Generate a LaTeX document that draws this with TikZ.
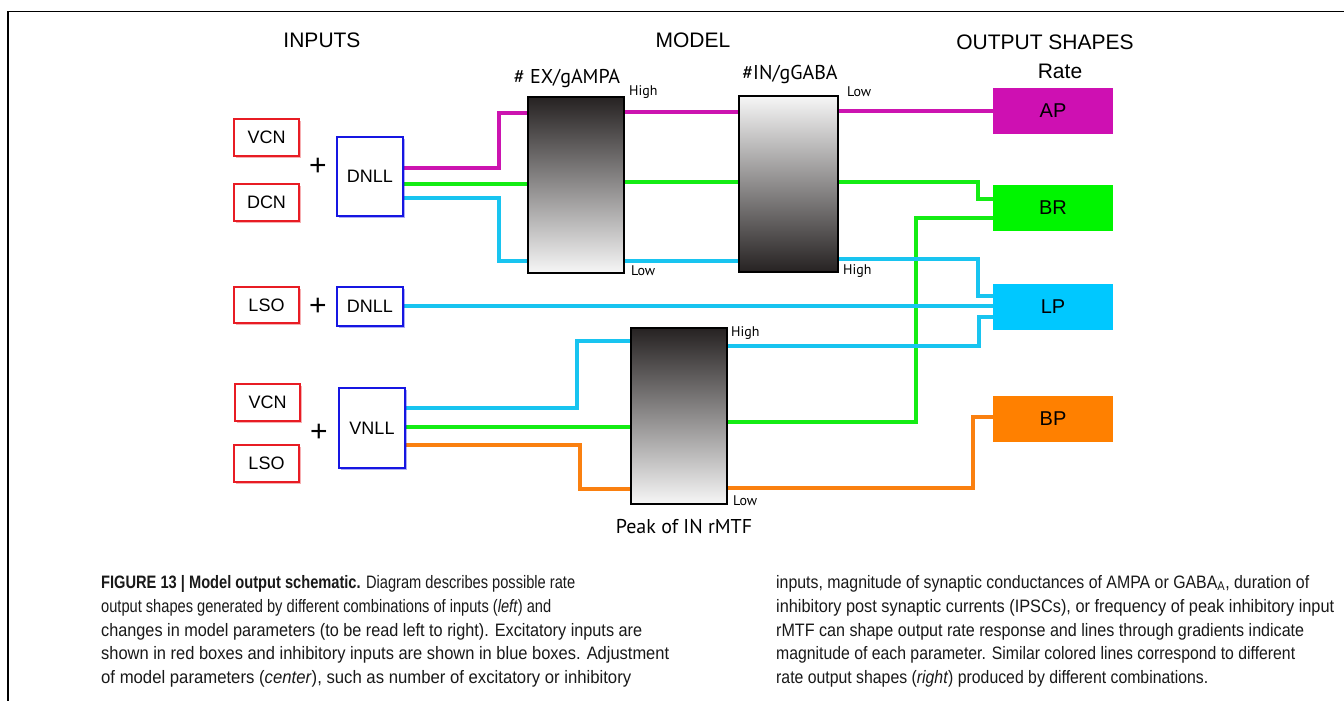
\documentclass[tikz,border=0pt]{standalone}
\usepackage{fontspec}
\usepackage{graphicx}
\setmainfont{Liberation Sans}
\newfontfamily\myr{PT Sans}
\usetikzlibrary{shadows}
\definecolor{cred}{RGB}{232,28,36}
\definecolor{cblue}{RGB}{22,22,226}
\definecolor{cmag}{RGB}{204,20,176}
\definecolor{cgrn}{RGB}{20,236,20}
\definecolor{ccyn}{RGB}{24,196,240}
\definecolor{corg}{RGB}{250,128,16}
\definecolor{fmag}{RGB}{206,16,178}
\definecolor{fgrn}{RGB}{0,245,0}
\definecolor{fcyn}{RGB}{0,200,255}
\definecolor{forg}{RGB}{255,128,0}
\definecolor{gdark}{RGB}{38,34,34}
\definecolor{glight}{RGB}{246,246,246}
\definecolor{captxt}{RGB}{25,25,25}
\pgfdeclarelayer{bg}
\pgfsetlayers{bg,main}
\newcommand\capfont{\fontsize{18}{21}\selectfont}
\newcommand\capline[4]{\node[anchor=base west, inner sep=0pt, text=captxt] (c#1#2) at (#1,#2) {\resizebox{#3pt}{\height}{\capfont #4}};}
\begin{document}
\begin{tikzpicture}[x=1pt,y=-1pt,
  heading/.style={inner sep=0pt, font=\fontsize{21}{24}\selectfont},
  inbox/.style={draw=#1, line width=2pt, fill=white, inner sep=0pt,
     font=\fontsize{18}{20}\selectfont,
     drop shadow={shadow xshift=1.6pt, shadow yshift=-1.6pt, fill=#1, opacity=0.35}},
  gradbox/.style={draw=black, line width=1.8pt, minimum width=96pt, minimum height=176pt, inner sep=0pt},
  outbox/.style={fill=#1, inner sep=0pt, minimum width=120pt, minimum height=46pt, font=\fontsize{20}{22}\selectfont},
  lvl/.style={anchor=west, inner sep=0pt, font=\myr\fontsize{14}{16}\selectfont},
  param/.style={inner sep=0pt, font=\myr\fontsize{20}{22}\selectfont},
  wire/.style={line width=3.4pt, draw=#1, line join=miter},
  plus/.style={inner sep=0pt, font=\fontsize{30}{30}\selectfont}]
\useasboundingbox (0,0) rectangle (1344,701);
\begin{pgfonlayer}{bg}
\fill[white] (0,0) rectangle (1344,701);
\end{pgfonlayer}
% frame
\draw[line width=1.4pt] (1344,11.5) -- (8,11.5) -- (8,701);
% headings
\node[heading] (hin) at (322,40) {INPUTS};
\node[heading] (hmod) at (693,40) {MODEL};
\node[heading] (hout) at (1045,42) {OUTPUT SHAPES};
\node[heading] (hrate) at (1060,71) {Rate};
% input boxes
\node[inbox=cred, minimum width=65pt, minimum height=37pt] (vcn1) at (266.5,137.5) {VCN};
\node[inbox=cred, minimum width=65pt, minimum height=37pt] (dcn) at (266.5,202.5) {DCN};
\node[inbox=cred, minimum width=65pt, minimum height=36pt] (lso1) at (266.5,305) {LSO};
\node[inbox=cred, minimum width=65pt, minimum height=37pt] (vcn2) at (267.5,402.5) {VCN};
\node[inbox=cred, minimum width=65pt, minimum height=37pt] (lso2) at (266.5,463.5) {LSO};
\node[inbox=cblue, minimum width=66pt, minimum height=79pt] (dnll1) at (370,176.5) {DNLL};
\node[inbox=cblue, minimum width=66pt, minimum height=39pt] (dnll2) at (370,306.5) {DNLL};
\node[inbox=cblue, minimum width=66pt, minimum height=80pt] (vnll) at (372,428) {VNLL};
\node[plus] (p1) at (318,167) {+};
\node[plus] (p2) at (318,307) {+};
\node[plus] (p3) at (319,433) {+};
% model boxes
\node[gradbox, top color=gdark, bottom color=glight] (ex) at (576,185) {};
\node[gradbox, minimum width=99pt, top color=glight, bottom color=gdark] (ingaba) at (788.5,184) {};
\node[gradbox, top color=gdark, bottom color=glight] (peak) at (679,416) {};
\node[param] (tex) at (567,79) {\# EX/gAMPA};
\node[param] (tin) at (790,74) {\#IN/gGABA};
\node[param] (tpk) at (684,527) {Peak of IN rMTF};
\node[lvl] (exh) at (629,92) {High};
\node[lvl] (exl) at (631,271) {Low};
\node[lvl] (inl) at (847,92) {Low};
\node[lvl] (inh) at (843,271) {High};
\node[lvl] (pkh) at (731,333) {High};
\node[lvl] (pkl) at (733,501) {Low};
% output boxes
\node[outbox=fmag] (ap) at (1053,111) {AP};
\node[outbox=fgrn] (br) at (1053,208) {BR};
\node[outbox=fcyn] (lp) at (1053,307) {LP};
\node[outbox=forg] (bp) at (1053,419) {BP};
% wires
\begin{pgfonlayer}{bg}
\draw[wire=cmag] (dnll1.east |- 0,168) -- ++(95,0) |- (ex.west |- 0,113);
\draw[wire=cmag] (ex.east |- 0,112) -- (ingaba.west |- 0,112);
\draw[wire=cmag] (ingaba.east |- 0,111) -- (ap.west);
\draw[wire=cgrn] (dnll1.east |- 0,184) -- (ex.west |- 0,184);
\draw[wire=cgrn] (ex.east |- 0,182) -- (ingaba.west |- 0,182);
\draw[wire=cgrn] (ingaba.east |- 0,182) -- ++(139,0) |- (br.west |- 0,199);
\draw[wire=cgrn] (vnll.east |- 0,427) -- (peak.west |- 0,427);
\draw[wire=cgrn] (peak.east |- 0,422) -- ++(188,0) |- (br.west |- 0,218);
\draw[wire=ccyn] (dnll1.east |- 0,198) -- ++(95,0) |- (ex.west |- 0,261);
\draw[wire=ccyn] (ex.east |- 0,261) -- (ingaba.west |- 0,261);
\draw[wire=ccyn] (ingaba.east |- 0,259) -- ++(139,0) |- (lp.west |- 0,296);
\draw[wire=ccyn] (dnll2.east |- 0,306) -- (lp.west |- 0,306);
\draw[wire=ccyn] (vnll.east |- 0,408) -- ++(171,0) |- (peak.west |- 0,341);
\draw[wire=ccyn] (peak.east |- 0,346) -- ++(251,0) |- (lp.west |- 0,317);
\draw[wire=corg] (vnll.east |- 0,445) -- ++(174,0) |- (peak.west |- 0,489);
\draw[wire=corg] (peak.east |- 0,488) -- ++(245,0) |- (bp.west |- 0,417);
\end{pgfonlayer}
% caption
\capline{101}{588}{474}{\textbf{FIGURE 13 | Model output schematic.} Diagram describes possible rate}
\capline{101}{612}{450}{output shapes generated by different combinations of inputs (\textit{left}) and}
\capline{101}{636}{541}{changes in model parameters (to be read left to right). Excitatory inputs are}
\capline{101}{659}{568}{shown in red boxes and inhibitory inputs are shown in blue boxes. Adjustment}
\capline{101}{683}{530}{of model parameters (\textit{center}), such as number of excitatory or inhibitory}
\capline{776}{588}{533}{inputs, magnitude of synaptic conductances of AMPA or GABA\textsubscript{A}, duration of}
\capline{776}{612}{558}{inhibitory post synaptic currents (IPSCs), or frequency of peak inhibitory input}
\capline{776}{636}{528}{rMTF can shape output rate response and lines through gradients indicate}
\capline{776}{659}{519}{magnitude of each parameter. Similar colored lines correspond to different}
\capline{776}{683}{432}{rate output shapes (\textit{right}) produced by different combinations.}
\end{tikzpicture}
\end{document}
